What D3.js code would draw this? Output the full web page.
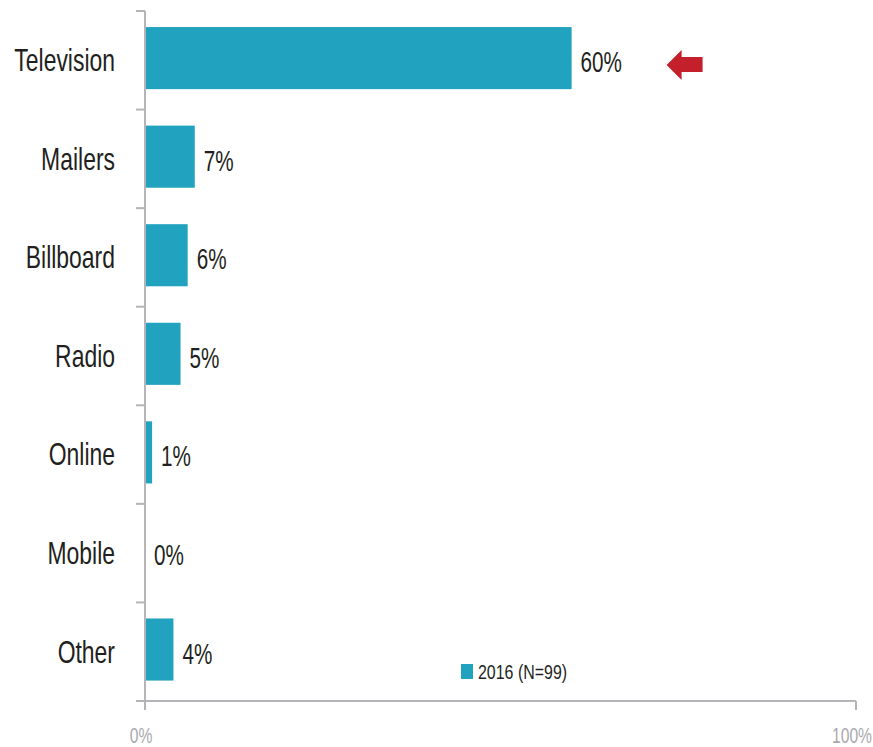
<!DOCTYPE html>
<html>
<head>
<meta charset="utf-8">
<script src="https://cdn.jsdelivr.net/npm/d3@7"></script>
<style>
  html, body { margin: 0; padding: 0; background: #fff; }
  svg text { font-family: "Liberation Sans", Arial, sans-serif; }
</style>
</head>
<body>
<svg id="chart" width="873" height="747"></svg>
<script>
// Share of respondents by advertising channel
const categories = ["Television", "Mailers", "Billboard", "Radio", "Online", "Mobile", "Other"];
const values2016 = [60, 7, 6, 5, 1, 0, 4];
const xTickLabels = ["0%", "100%"];
const xTickValues = [0, 100];
const seriesName = "2016 (N=99)";

const barColor = "#21a2bf";
const axisColor = "#b5b5b9";
const textColor = "#231f20";

const svg = d3.select("#chart");

const x = d3.scaleLinear().domain([0, 100]).range([145, 856]);
const y = d3.scaleBand().domain(categories).range([11, 701]).paddingInner(0.37).paddingOuter(0.185).align(0.44);

// horizontally condensed text
function label(g, tx, ty, txt, size, anchor, fill, sx = 0.71) {
  g.append("text")
    .attr("transform", `translate(${tx},${ty}) scale(${sx},1)`)
    .attr("text-anchor", anchor)
    .attr("font-size", size)
    .attr("fill", fill)
    .text(txt);
}

// bars
svg.append("g").selectAll("rect")
  .data(categories)
  .join("rect")
  .attr("x", x(0) + 1)
  .attr("y", d => y(d))
  .attr("width", (d, i) => Math.max(0, x(values2016[i]) - x(0) - 1))
  .attr("height", y.bandwidth())
  .attr("fill", barColor);

// vertical axis with band-boundary ticks
const axisG = svg.append("g").attr("stroke", axisColor).attr("stroke-width", 2).attr("fill", "none");
const yTop = y.range()[0], yBot = y.range()[1];
axisG.append("line").attr("x1", x(0)).attr("x2", x(0)).attr("y1", yTop).attr("y2", yBot + 9);
d3.range(categories.length + 1).forEach(k => {
  const yy = yTop + k * (yBot - yTop) / categories.length;
  axisG.append("line").attr("x1", x(0) - 9).attr("x2", x(0)).attr("y1", yy).attr("y2", yy);
});

// horizontal axis
axisG.append("line").attr("x1", x(0)).attr("x2", x(100)).attr("y1", yBot).attr("y2", yBot);
xTickValues.forEach(v => {
  axisG.append("line").attr("x1", x(v)).attr("x2", x(v)).attr("y1", yBot).attr("y2", yBot + 9);
});
const tickG = svg.append("g");
xTickValues.forEach((v, i) => {
  label(tickG, x(v) - 4, 743, xTickLabels[i], 22, "middle", "#a9a9ad");
});

// category labels
const catG = svg.append("g");
categories.forEach(c => {
  label(catG, 115, y(c) + y.bandwidth() / 2 + 13, c, 31, "end", textColor, 0.74);
});

// value labels
const valG = svg.append("g");
categories.forEach((c, i) => {
  label(valG, x(values2016[i]) + 9, y(c) + y.bandwidth() / 2 + 14, values2016[i] + "%", 30, "start", textColor, 0.69);
});

// highlight arrow pointing at the Television value
const tvY = y("Television") + y.bandwidth() / 2 + 7;
const ax = x(values2016[0]) + 95;
svg.append("path")
  .attr("d", `M${ax},${tvY} L${ax + 15},${tvY - 15} L${ax + 15},${tvY - 8} L${ax + 36},${tvY - 8} L${ax + 36},${tvY + 7} L${ax + 15},${tvY + 7} L${ax + 15},${tvY + 15} Z`)
  .attr("fill", "#c4202b");

// legend
const lg = svg.append("g");
lg.append("rect").attr("x", 461).attr("y", 664).attr("width", 12).attr("height", 15).attr("fill", barColor);
label(lg, 478, 679, seriesName, 21, "start", textColor, 0.76);
</script>
</body>
</html>
